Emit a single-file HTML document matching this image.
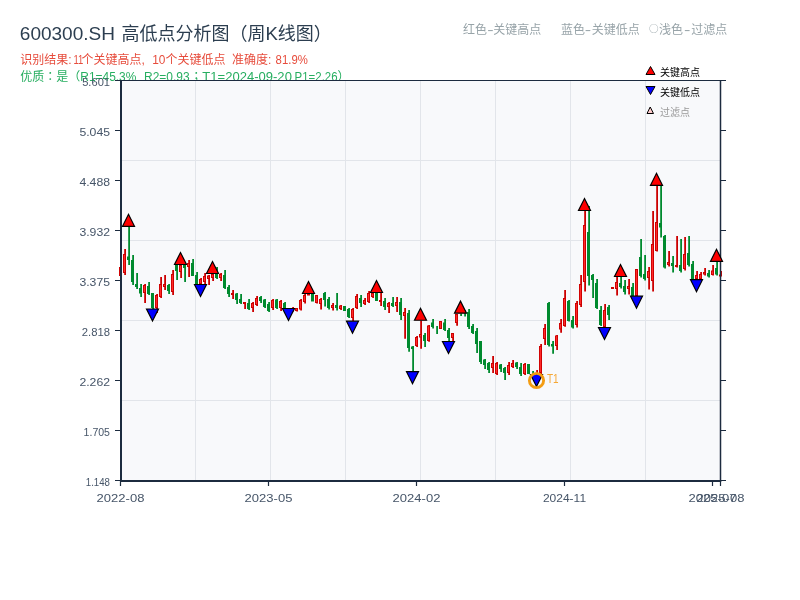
<!DOCTYPE html>
<html lang="zh"><head><meta charset="utf-8"><title>600300.SH 高低点分析图</title>
<style>html,body{margin:0;padding:0;background:#fff;}body{width:800px;height:600px;overflow:hidden;font-family:"Liberation Sans", "Noto Sans CJK SC", sans-serif;}svg{display:block;}text{font-family:"Liberation Sans", "Noto Sans CJK SC", sans-serif;}</style>
</head><body>
<svg width="800" height="600" viewBox="0 0 800 600">
<rect x="0" y="0" width="800" height="600" fill="#ffffff"/>
<text y="40" font-size="18" fill="#2c3e50" xml:space="preserve"><tspan x="19.8" textLength="95.2" lengthAdjust="spacingAndGlyphs">600300.SH</tspan><tspan x="116"> </tspan><tspan x="121.5">高低点分析图（周</tspan><tspan x="265.6" textLength="12.4" lengthAdjust="spacingAndGlyphs">K</tspan><tspan x="277.8">线图）</tspan></text>
<text y="63.5" font-size="12" fill="#e74c3c" xml:space="preserve"><tspan x="20.3">识别结果:</tspan><tspan x="71"> </tspan><tspan x="73.5" textLength="9.8" lengthAdjust="spacingAndGlyphs">11</tspan><tspan x="81.5">个关键高点,</tspan><tspan x="148"> </tspan><tspan x="152.2" textLength="13.2" lengthAdjust="spacingAndGlyphs">10</tspan><tspan x="165.6">个关键低点</tspan><tspan x="226">  </tspan><tspan x="232">准确度:</tspan><tspan x="272"> </tspan><tspan x="275.6" textLength="32.2" lengthAdjust="spacingAndGlyphs">81.9%</tspan></text>
<text y="80.5" font-size="12" fill="#27ae60" xml:space="preserve"><tspan x="20.3">优质</tspan><tspan x="44.3" lang="zh-TW" style="font-family:'Noto Sans CJK TC',sans-serif">：</tspan><tspan x="56.3">是（</tspan><tspan x="80.3" textLength="56" lengthAdjust="spacingAndGlyphs">R1=45.3%</tspan><tspan x="137">  </tspan><tspan x="144" textLength="45.6" lengthAdjust="spacingAndGlyphs">R2=0.93</tspan><tspan x="190.2" lang="zh-TW" style="font-family:'Noto Sans CJK TC',sans-serif">；</tspan><tspan x="202.3" textLength="89.6" lengthAdjust="spacingAndGlyphs">T1=2024-09-20</tspan><tspan x="292"> </tspan><tspan x="294.6" textLength="43" lengthAdjust="spacingAndGlyphs">P1=2.26</tspan><tspan x="337.5">）</tspan></text>
<text y="33.5" font-size="12" fill="#97a3a8" xml:space="preserve"><tspan x="463">红色</tspan><tspan x="487.2" textLength="6.4" lengthAdjust="spacingAndGlyphs">-</tspan><tspan x="493.2">关键高点</tspan></text>
<text y="33.5" font-size="12" fill="#97a3a8" xml:space="preserve"><tspan x="561">蓝色</tspan><tspan x="584.8" textLength="6.4" lengthAdjust="spacingAndGlyphs">-</tspan><tspan x="591.8">关键低点</tspan></text>
<text y="33.5" font-size="12" fill="#97a3a8" xml:space="preserve"><tspan x="649" y="32.4" style="font-family:'Noto Sans CJK SC',sans-serif;font-size:9.6px">○</tspan><tspan x="659" y="33.5">浅色</tspan><tspan x="684" textLength="6.4" lengthAdjust="spacingAndGlyphs">-</tspan><tspan x="691.3">过滤点</tspan></text>
<rect x="121" y="80.5" width="600" height="400" fill="#f8f9fb"/>
<path d="M195.5 81V480M270.5 81V480M345.5 81V480M420.5 81V480M495.5 81V480M570.5 81V480M645.5 81V480M122 160.5H720M122 240.5H720M122 320.5H720M122 400.5H720" stroke="#e2e5ea" stroke-width="1" fill="none"/>
<path d="M128.2 226h1.8V265h-1.8zM127 256.5h3V260h-3zM132.2 255h1.8V285h-1.8zM131 260h3V282h-3zM136.2 273h1.8V289h-1.8zM135 284h3V287h-3zM140.2 284h1.8V297h-1.8zM139 288h3V293.5h-3zM148.2 282h1.8V295h-1.8zM147 286h3V294h-3zM152.2 293h1.8V309h-1.8zM151 293h3V308h-3zM168.2 284h1.8V294h-1.8zM167 285h3V291h-3zM176.2 265h1.8V280h-1.8zM175 265h3V271h-3zM184.2 265h1.8V282h-1.8zM183 265h3V268h-3zM192.2 259h1.8V276h-1.8zM191 263h3V276h-3zM196.2 272h1.8V284h-1.8zM195 275h3V284h-3zM216.2 267h1.8V279h-1.8zM215 274h3V278h-3zM224.2 270h1.8V289h-1.8zM223 275h3V288h-3zM228.2 285h1.8V297h-1.8zM227 287h3V294h-3zM236.2 293h1.8V304h-1.8zM235 293.5h3V300h-3zM240.2 294h1.8V304h-1.8zM239 299h3V303h-3zM248.2 299h1.8V310h-1.8zM247 303h3V309h-3zM260.2 296h1.8V303h-1.8zM259 297h3V301h-3zM264.2 299h1.8V308h-1.8zM263 299.5h3V307h-3zM268.2 302h1.8V312h-1.8zM267 304h3V311h-3zM276.2 299h1.8V309h-1.8zM275 299.5h3V308h-3zM284.2 302h1.8V308.5h-1.8zM283 303h3V308.5h-3zM312.2 294h1.8V301.5h-1.8zM311 294h3V301.5h-3zM324.2 292h1.8V306.5h-1.8zM323 293h3V300h-3zM328.2 297h1.8V309.5h-1.8zM327 299h3V308h-3zM336.2 293h1.8V310.5h-1.8zM335 305h3V308h-3zM344.2 306h1.8V311h-1.8zM343 306h3V311h-3zM348.2 308h1.8V318h-1.8zM347 309h3V317h-3zM360.2 295h1.8V307h-1.8zM359 298h3V303h-3zM376.2 293h1.8V301h-1.8zM375 293h3V301h-3zM384.2 298h1.8V310h-1.8zM383 301h3V307h-3zM392.2 297h1.8V307h-1.8zM391 303h3V306h-3zM400.2 298h1.8V320h-1.8zM399 302h3V315h-3zM408.2 310h1.8V351.75h-1.8zM407 313h3V348h-3zM412.2 346h1.8V371h-1.8zM411 346.5h3V349h-3zM424.2 333h1.8V347h-1.8zM423 335h3V341h-3zM432.2 319h1.8V328.5h-1.8zM431 322.5h3V327h-3zM436.2 326h1.8V334h-1.8zM444.2 319h1.8V331h-1.8zM443 322.5h3V330h-3zM448.2 328h1.8V341.5h-1.8zM447 330h3V338h-3zM460.2 313.5h1.8V316h-1.8zM464.2 310h1.8V316.5h-1.8zM468.2 309h1.8V329h-1.8zM467 312h3V327h-3zM472.2 324h1.8V334h-1.8zM471 326h3V333h-3zM476.2 328h1.8V353h-1.8zM475 331h3V344h-3zM480.2 341h1.8V364h-1.8zM479 341h3V362h-3zM484.2 359h1.8V369h-1.8zM483 359.5h3V365h-3zM488.2 362h1.8V373h-1.8zM487 363h3V370h-3zM500.2 364h1.8V372h-1.8zM499 364.5h3V369h-3zM504.2 367h1.8V380h-1.8zM503 368h3V373h-3zM516.2 362h1.8V369h-1.8zM515 362.5h3V367h-3zM520.2 363h1.8V376h-1.8zM519 367h3V374h-3zM528.2 364h1.8V374h-1.8zM527 364h3V374h-3zM532.2 371h1.8V374h-1.8zM548.2 302h1.8V346.6h-1.8zM547 303h3V345h-3zM552.2 341h1.8V353.75h-1.8zM551 344h3V346.6h-3zM568.2 300h1.8V321.5h-1.8zM567 301h3V321h-3zM572.2 316h1.8V328.6h-1.8zM571 320h3V327.5h-3zM588.2 206h1.8V285.5h-1.8zM587 232h3V276h-3zM592.2 274h1.8V298h-1.8zM591 275h3V280h-3zM596.2 279h1.8V309h-1.8zM595 283h3V308h-3zM600.2 306h1.8V326h-1.8zM599 310h3V325h-3zM608.2 305h1.8V320h-1.8zM607 307h3V315h-3zM620.2 277h1.8V288.5h-1.8zM619 283h3V287h-3zM624.2 280h1.8V294.5h-1.8zM623 286h3V292h-3zM632.2 283h1.8V296h-1.8zM631 287h3V296h-3zM640.2 239h1.8V277.5h-1.8zM639 257h3V276h-3zM644.2 255h1.8V280.5h-1.8zM643 274h3V279h-3zM660.2 185.5h1.8V237.5h-1.8zM659 223h3V227.5h-3zM664.2 235h1.8V268.5h-1.8zM663 236h3V267.5h-3zM672.2 256h1.8V272.5h-1.8zM671 263h3V266h-3zM680.2 239h1.8V272.5h-1.8zM679 265h3V271h-3zM688.2 236h1.8V266.5h-1.8zM687 253h3V265h-3zM692.2 261h1.8V279.5h-1.8zM691 264h3V279.5h-3zM708.2 270h1.8V277.5h-1.8zM707 273h3V276.5h-3zM716.2 261.5h1.8V275.5h-1.8zM715 268h3V274.5h-3z" fill="#008a2e"/>
<path d="M120.2 267h1.8V276h-1.8zM119 267h3V276h-3zM124.2 249h1.8V275h-1.8zM123 254h3V273h-3zM144.2 284h1.8V303h-1.8zM143 285h3V293h-3zM156.2 294h1.8V313h-1.8zM155 295h3V308h-3zM160.2 277h1.8V298h-1.8zM159 284h3V297h-3zM164.2 275h1.8V290h-1.8zM163 284h3V287h-3zM172.2 270h1.8V295h-1.8zM171 274h3V292h-3zM180.2 265h1.8V278h-1.8zM179 265h3V272h-3zM188.2 260h1.8V277h-1.8zM187 263h3V267h-3zM200.2 278h1.8V284h-1.8zM199 279h3V284h-3zM204.2 273h1.8V284h-1.8zM203 276h3V282h-3zM208.2 275h1.8V285h-1.8zM207 275.5h3V279h-3zM212.2 274h1.8V281h-1.8zM211 274h3V278h-3zM220.2 273h1.8V281h-1.8zM219 274h3V278h-3zM232.2 290h1.8V299h-1.8zM231 293h3V295h-3zM244.2 302h1.8V309h-1.8zM243 302h3V304h-3zM252.2 302h1.8V312h-1.8zM251 303h3V308h-3zM256.2 296h1.8V306h-1.8zM255 298h3V305h-3zM272.2 299h1.8V310h-1.8zM271 300h3V308h-3zM280.2 300h1.8V311h-1.8zM279 301h3V308h-3zM292.2 307h1.8V311.6h-1.8zM291 308h3V309h-3zM296.2 308h1.8V311.5h-1.8zM295 308h3V311h-3zM300.2 299h1.8V310.5h-1.8zM299 300h3V309.5h-3zM304.2 294h1.8V303.5h-1.8zM303 295h3V302h-3zM308.2 294h1.8V295.5h-1.8zM307 294h3V295.5h-3zM316.2 295h1.8V303.5h-1.8zM315 295h3V303h-3zM320.2 298h1.8V309.5h-1.8zM319 299h3V304h-3zM332.2 303h1.8V310.5h-1.8zM331 305h3V308h-3zM340.2 305h1.8V310h-1.8zM339 305.5h3V309h-3zM352.2 308h1.8V321h-1.8zM351 309h3V318h-3zM356.2 294h1.8V309h-1.8zM355 296h3V308h-3zM364.2 298h1.8V305h-1.8zM363 300h3V304h-3zM368.2 291h1.8V303h-1.8zM367 293h3V302h-3zM372.2 293h1.8V298h-1.8zM371 293h3V297h-3zM380.2 293h1.8V306h-1.8zM379 300h3V302h-3zM388.2 302h1.8V313h-1.8zM387 303h3V307h-3zM396.2 297h1.8V312h-1.8zM395 302h3V306h-3zM404.2 308h1.8V338.7h-1.8zM403 312h3V316h-3zM416.2 336h1.8V347h-1.8zM415 337h3V346h-3zM420.2 320.5h1.8V348.75h-1.8zM419 334h3V337.5h-3zM428.2 325h1.8V341.7h-1.8zM427 325.5h3V341h-3zM440.2 321h1.8V329h-1.8zM439 321h3V329h-3zM452.2 333h1.8V341.4h-1.8zM451 333h3V338h-3zM456.2 314h1.8V325.8h-1.8zM455 314h3V323h-3zM492.2 356h1.8V373h-1.8zM491 363h3V368h-3zM496.2 362h1.8V375h-1.8zM495 363h3V374h-3zM508.2 362h1.8V375h-1.8zM507 365h3V373h-3zM512.2 360h1.8V368h-1.8zM511 363h3V367h-3zM524.2 363h1.8V375h-1.8zM523 364h3V374h-3zM536.2 370h1.8V374.5h-1.8zM540.2 344h1.8V374h-1.8zM539 346h3V373h-3zM544.2 324h1.8V345h-1.8zM543 328h3V339h-3zM556.2 335h1.8V350h-1.8zM555 335.4h3V346h-3zM560.2 319h1.8V332.75h-1.8zM559 323h3V329.4h-3zM564.2 290h1.8V326.75h-1.8zM563 298h3V326h-3zM576.2 301h1.8V327.5h-1.8zM575 303h3V325h-3zM580.2 275h1.8V307h-1.8zM579 284h3V305h-3zM584.2 210.5h1.8V291.5h-1.8zM583 225h3V282h-3zM604.2 304h1.8V327.5h-1.8zM603 310h3V327h-3zM612.2 287h1.8V289h-1.8zM611 287h3V289h-3zM616.2 277h1.8V295.5h-1.8zM615 282h3V289h-3zM628.2 279h1.8V294.5h-1.8zM627 286h3V289h-3zM636.2 269h1.8V296h-1.8zM635 269h3V296h-3zM648.2 267h1.8V289.5h-1.8zM647 271h3V278h-3zM652.2 211h1.8V291.5h-1.8zM651 244h3V281h-3zM656.2 185.5h1.8V251.5h-1.8zM655 222h3V251h-3zM668.2 251h1.8V266.5h-1.8zM667 262h3V265h-3zM676.2 236h1.8V267.5h-1.8zM675 265h3V267h-3zM684.2 237h1.8V270.5h-1.8zM683 254h3V269h-3zM696.2 271h1.8V279.5h-1.8zM695 275h3V279h-3zM700.2 272h1.8V279.5h-1.8zM699 274h3V279h-3zM704.2 268h1.8V275.5h-1.8zM703 272h3V274.5h-3zM712.2 265h1.8V275.5h-1.8zM711 270.5h3V275h-3zM720.2 271h1.8V276.5h-1.8zM719 274.5h3V276.5h-3z" fill="#cc0000"/>
<path d="M119.9 267.9h1.1V275.1h-1.1zM123.9 254.9h1.1V272.1h-1.1zM143.9 285.9h1.1V292.1h-1.1zM155.9 295.9h1.1V307.1h-1.1zM159.9 284.9h1.1V296.1h-1.1zM163.9 284.9h1.1V286.1h-1.1zM171.9 274.9h1.1V291.1h-1.1zM179.9 265.9h1.1V271.1h-1.1zM187.9 263.9h1.1V266.1h-1.1zM199.9 279.9h1.1V283.1h-1.1zM203.9 276.9h1.1V281.1h-1.1zM207.9 276.4h1.1V278.1h-1.1zM211.9 274.9h1.1V277.1h-1.1zM219.9 274.9h1.1V277.1h-1.1zM251.9 303.9h1.1V307.1h-1.1zM255.9 298.9h1.1V304.1h-1.1zM271.9 300.9h1.1V307.1h-1.1zM279.9 301.9h1.1V307.1h-1.1zM295.9 308.9h1.1V310.1h-1.1zM299.9 300.9h1.1V308.6h-1.1zM303.9 295.9h1.1V301.1h-1.1zM315.9 295.9h1.1V302.1h-1.1zM319.9 299.9h1.1V303.1h-1.1zM331.9 305.9h1.1V307.1h-1.1zM339.9 306.4h1.1V308.1h-1.1zM351.9 309.9h1.1V317.1h-1.1zM355.9 296.9h1.1V307.1h-1.1zM363.9 300.9h1.1V303.1h-1.1zM367.9 293.9h1.1V301.1h-1.1zM371.9 293.9h1.1V296.1h-1.1zM387.9 303.9h1.1V306.1h-1.1zM395.9 302.9h1.1V305.1h-1.1zM403.9 312.9h1.1V315.1h-1.1zM415.9 337.9h1.1V345.1h-1.1zM419.9 334.9h1.1V336.6h-1.1zM427.9 326.4h1.1V340.1h-1.1zM439.9 321.9h1.1V328.1h-1.1zM451.9 333.9h1.1V337.1h-1.1zM455.9 314.9h1.1V322.1h-1.1zM491.9 363.9h1.1V367.1h-1.1zM495.9 363.9h1.1V373.1h-1.1zM507.9 365.9h1.1V372.1h-1.1zM511.9 363.9h1.1V366.1h-1.1zM523.9 364.9h1.1V373.1h-1.1zM539.9 346.9h1.1V372.1h-1.1zM543.9 328.9h1.1V338.1h-1.1zM555.9 336.3h1.1V345.1h-1.1zM559.9 323.9h1.1V328.5h-1.1zM563.9 298.9h1.1V325.1h-1.1zM575.9 303.9h1.1V324.1h-1.1zM579.9 284.9h1.1V304.1h-1.1zM583.9 225.9h1.1V281.1h-1.1zM603.9 310.9h1.1V326.1h-1.1zM615.9 282.9h1.1V288.1h-1.1zM627.9 286.9h1.1V288.1h-1.1zM635.9 269.9h1.1V295.1h-1.1zM647.9 271.9h1.1V277.1h-1.1zM651.9 244.9h1.1V280.1h-1.1zM655.9 222.9h1.1V250.1h-1.1zM667.9 262.9h1.1V264.1h-1.1zM683.9 254.9h1.1V268.1h-1.1zM695.9 275.9h1.1V278.1h-1.1zM699.9 274.9h1.1V278.1h-1.1zM703.9 272.9h1.1V273.6h-1.1zM711.9 271.4h1.1V274.1h-1.1z" fill="#ff2a2a"/>
<path d="M121 80.5H721" stroke="#1c2b3f" stroke-width="1" fill="none"/>
<path d="M720.5 80V481" stroke="#1c2b3f" stroke-width="1.5" fill="none"/>
<path d="M121 80V482" stroke="#1c2b3f" stroke-width="2" fill="none"/>
<path d="M120 480.9H721.3" stroke="#1c2b3f" stroke-width="2" fill="none"/>
<path d="M115 80.5H120M721 80.5H726M115 130.5H120M721 130.5H726M115 180.5H120M721 180.5H726M115 230.5H120M721 230.5H726M115 280.5H120M721 280.5H726M115 330.5H120M721 330.5H726M115 380.5H120M721 380.5H726M115 430.5H120M721 430.5H726M115 480.5H120M721 480.5H726M120.5 481V486M268.5 481V486M416.5 481V486M564.5 481V486M712.5 481V486M720.5 481V486" stroke="#1c2b3f" stroke-width="1.2" fill="none"/>
<text x="110" y="85.8" font-size="11" fill="#465568" text-anchor="end" textLength="27.8" lengthAdjust="spacingAndGlyphs">5.601</text>
<text x="110" y="135.8" font-size="11" fill="#465568" text-anchor="end" textLength="30.6" lengthAdjust="spacingAndGlyphs">5.045</text>
<text x="110" y="185.8" font-size="11" fill="#465568" text-anchor="end" textLength="30.6" lengthAdjust="spacingAndGlyphs">4.488</text>
<text x="110" y="235.8" font-size="11" fill="#465568" text-anchor="end" textLength="30.6" lengthAdjust="spacingAndGlyphs">3.932</text>
<text x="110" y="285.8" font-size="11" fill="#465568" text-anchor="end" textLength="30.6" lengthAdjust="spacingAndGlyphs">3.375</text>
<text x="110" y="335.8" font-size="11" fill="#465568" text-anchor="end" textLength="28.2" lengthAdjust="spacingAndGlyphs">2.818</text>
<text x="110" y="385.8" font-size="11" fill="#465568" text-anchor="end" textLength="30.6" lengthAdjust="spacingAndGlyphs">2.262</text>
<text x="110" y="435.8" font-size="11" fill="#465568" text-anchor="end" textLength="26.4" lengthAdjust="spacingAndGlyphs">1.705</text>
<text x="110" y="485.8" font-size="11" fill="#465568" text-anchor="end" textLength="24.2" lengthAdjust="spacingAndGlyphs">1.148</text>
<text x="120.5" y="502" font-size="11" fill="#465568" text-anchor="middle" textLength="47.8" lengthAdjust="spacingAndGlyphs">2022-08</text>
<text x="268.5" y="502" font-size="11" fill="#465568" text-anchor="middle" textLength="47.8" lengthAdjust="spacingAndGlyphs">2023-05</text>
<text x="416.5" y="502" font-size="11" fill="#465568" text-anchor="middle" textLength="47.8" lengthAdjust="spacingAndGlyphs">2024-02</text>
<text x="564.5" y="502" font-size="11" fill="#465568" text-anchor="middle" textLength="43.2" lengthAdjust="spacingAndGlyphs">2024-11</text>
<text x="712.5" y="502" font-size="11" fill="#465568" text-anchor="middle" textLength="47.8" lengthAdjust="spacingAndGlyphs">2025-07</text>
<text x="720.5" y="502" font-size="11" fill="#465568" text-anchor="middle" textLength="47.8" lengthAdjust="spacingAndGlyphs">2025-08</text>
<path d="M122.5 226.3L134.5 226.3L128.5 214.3z" fill="#ff0000" stroke="#000" stroke-width="1.2" stroke-linejoin="miter"/>
<path d="M174.5 264.5L186.5 264.5L180.5 252.5z" fill="#ff0000" stroke="#000" stroke-width="1.2" stroke-linejoin="miter"/>
<path d="M206.5 273.5L218.5 273.5L212.5 261.5z" fill="#ff0000" stroke="#000" stroke-width="1.2" stroke-linejoin="miter"/>
<path d="M302.5 293.5L314.5 293.5L308.5 281.5z" fill="#ff0000" stroke="#000" stroke-width="1.2" stroke-linejoin="miter"/>
<path d="M370.5 292.5L382.5 292.5L376.5 280.5z" fill="#ff0000" stroke="#000" stroke-width="1.2" stroke-linejoin="miter"/>
<path d="M414.5 320.25L426.5 320.25L420.5 308.25z" fill="#ff0000" stroke="#000" stroke-width="1.2" stroke-linejoin="miter"/>
<path d="M454.5 313.2L466.5 313.2L460.5 301.2z" fill="#ff0000" stroke="#000" stroke-width="1.2" stroke-linejoin="miter"/>
<path d="M578.5 210.5L590.5 210.5L584.5 198.5z" fill="#ff0000" stroke="#000" stroke-width="1.2" stroke-linejoin="miter"/>
<path d="M614.5 276.5L626.5 276.5L620.5 264.5z" fill="#ff0000" stroke="#000" stroke-width="1.2" stroke-linejoin="miter"/>
<path d="M650.5 185.3L662.5 185.3L656.5 173.3z" fill="#ff0000" stroke="#000" stroke-width="1.2" stroke-linejoin="miter"/>
<path d="M710.5 261.3L722.5 261.3L716.5 249.3z" fill="#ff0000" stroke="#000" stroke-width="1.2" stroke-linejoin="miter"/>
<path d="M146.5 309L158.5 309L152.5 321z" fill="#0000ff" stroke="#000" stroke-width="1.2" stroke-linejoin="miter"/>
<path d="M194.5 284.5L206.5 284.5L200.5 296.5z" fill="#0000ff" stroke="#000" stroke-width="1.2" stroke-linejoin="miter"/>
<path d="M282.5 308.5L294.5 308.5L288.5 320.5z" fill="#0000ff" stroke="#000" stroke-width="1.2" stroke-linejoin="miter"/>
<path d="M346.5 321.2L358.5 321.2L352.5 333.2z" fill="#0000ff" stroke="#000" stroke-width="1.2" stroke-linejoin="miter"/>
<path d="M406.5 371.7L418.5 371.7L412.5 383.7z" fill="#0000ff" stroke="#000" stroke-width="1.2" stroke-linejoin="miter"/>
<path d="M442.5 341.5L454.5 341.5L448.5 353.5z" fill="#0000ff" stroke="#000" stroke-width="1.2" stroke-linejoin="miter"/>
<path d="M530.5 374.5L542.5 374.5L536.5 386.5z" fill="#0000ff" stroke="#000" stroke-width="1.2" stroke-linejoin="miter"/>
<path d="M598.5 327.5L610.5 327.5L604.5 339.5z" fill="#0000ff" stroke="#000" stroke-width="1.2" stroke-linejoin="miter"/>
<path d="M630.5 296.2L642.5 296.2L636.5 308.2z" fill="#0000ff" stroke="#000" stroke-width="1.2" stroke-linejoin="miter"/>
<path d="M690.5 279.7L702.5 279.7L696.5 291.7z" fill="#0000ff" stroke="#000" stroke-width="1.2" stroke-linejoin="miter"/>
<circle cx="536.5" cy="380.5" r="7.1" fill="none" stroke="#f39c12" stroke-width="2.9"/>
<text x="547" y="382.8" font-size="12" fill="#f5a836" textLength="11.6" lengthAdjust="spacingAndGlyphs">T1</text>
<path d="M646 74.5L655 74.5L650.5 66.5z" fill="#ff0000" stroke="#000" stroke-width="1"/>
<text x="660" y="76" font-size="10" fill="#000">关键高点</text>
<path d="M646 86.5L655 86.5L650.5 94.5z" fill="#0000ff" stroke="#000" stroke-width="1"/>
<text x="660" y="96" font-size="10" fill="#000">关键低点</text>
<path d="M647 113.5L653.5 113.5L650.2 107z" fill="#ffcccc" stroke="#000" stroke-width="1"/>
<text x="660" y="116" font-size="10" fill="#999">过滤点</text>
</svg></body></html>
